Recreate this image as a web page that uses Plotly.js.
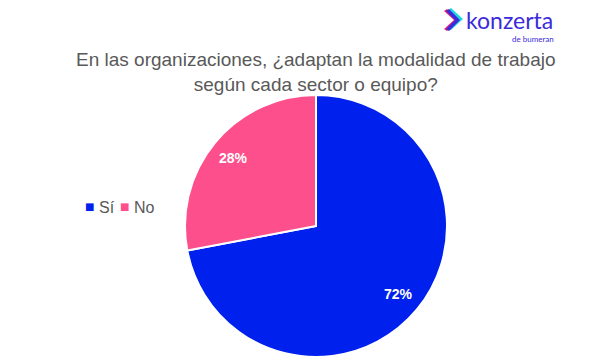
<!DOCTYPE html>
<html>
<head>
<meta charset="utf-8">
<script src="https://cdn.plot.ly/plotly-3.0.1.min.js"></script>
<style>html,body{margin:0;padding:0;background:#fff;}#chart{width:610px;height:362px;}</style>
</head>
<body>
<div id="chart"></div>
<script>
const labels = ["Sí", "No"];
const values = [72, 28];
const colors = ["#0020EE", "#FD4F8B"];
const titleText = "En las organizaciones, ¿adaptan la modalidad de trabajo<br>según cada sector o equipo?";

const W = 610, H = 362;
const px = x => x / W;
const py = y => 1 - y / H;
const CX = 316, CY = 226, R = 131;

const data = [{
  type: "pie",
  labels: labels,
  values: values,
  sort: false,
  direction: "clockwise",
  rotation: 0,
  marker: {colors: colors, line: {color: "#ffffff", width: 2}},
  textinfo: "none",
  hoverinfo: "label+percent",
  domain: {x: [px(CX - R), px(CX + R)], y: [py(CY + R), py(CY - R)]}
}];

const annotations = [
  {text: titleText, x: px(316), y: py(72), xref: "paper", yref: "paper", xanchor: "center", yanchor: "middle",
   showarrow: false, align: "center",
   font: {family: "Liberation Sans, Arial, sans-serif", size: 19, color: "#595959"}},
  {text: "konzerta", x: px(465), y: py(20), xref: "paper", yref: "paper", xanchor: "left", yanchor: "middle",
   showarrow: false, borderpad: 0, font: {family: "Lato, sans-serif", size: 23, color: "#3B2BDB"}},
  {text: "de bumeran", x: px(555), y: py(39), xref: "paper", yref: "paper", xanchor: "right", yanchor: "middle",
   showarrow: false, borderpad: 0, font: {family: "Lato, sans-serif", size: 8, color: "#3B2BDB"}}
];

// percentage labels placed along each slice's mid-angle
const total = values.reduce((a, b) => a + b, 0);
let cum = 0;
values.forEach((v, i) => {
  const mid = (cum + v / 2) / total * 2 * Math.PI;
  cum += v;
  const d = 0.82 * R;
  annotations.push({
    text: "<b>" + Math.round(v / total * 100) + "%</b>",
    x: px(CX + Math.sin(mid) * d), y: py(CY - Math.cos(mid) * d),
    xref: "paper", yref: "paper", xanchor: "center", yanchor: "middle", showarrow: false,
    font: {family: "Liberation Sans, Arial, sans-serif", size: 14, color: "#ffffff"}
  });
});

// legend
const legX = [89, 124];
labels.forEach((lab, i) => {
  annotations.push({text: "■", x: px(legX[i]), y: py(206), xref: "paper", yref: "paper",
    xanchor: "center", yanchor: "middle", showarrow: false,
    font: {family: "DejaVu Sans", size: 10, color: colors[i]}});
  annotations.push({text: lab, x: px(legX[i] + 8), y: py(207), xref: "paper", yref: "paper",
    xanchor: "left", yanchor: "middle", showarrow: false,
    font: {family: "Liberation Sans, Arial, sans-serif", size: 16, color: "#595959"}});
});

const layout = {
  width: W, height: H,
  margin: {l: 0, r: 0, t: 0, b: 0},
  paper_bgcolor: "#ffffff",
  showlegend: false,
  annotations: annotations,
  shapes: [
    {type: "path", xref: "paper", yref: "paper",
     path: `M ${px(448)} ${py(10)} L ${px(458)} ${py(19)} L ${px(448)} ${py(28)} L ${px(451)} ${py(30)} L ${px(463)} ${py(19)} L ${px(451)} ${py(8)} Z`,
     fillcolor: "#20D8E0", line: {width: 0}},
    {type: "path", xref: "paper", yref: "paper",
     path: `M ${px(444)} ${py(11)} L ${px(454)} ${py(20)} L ${px(444)} ${py(29)} L ${px(447)} ${py(31)} L ${px(459)} ${py(20)} L ${px(447)} ${py(9)} Z`,
     fillcolor: "#E8207A", line: {width: 0}},
    {type: "path", xref: "paper", yref: "paper",
     path: `M ${px(446)} ${py(11)} L ${px(455)} ${py(20)} L ${px(446)} ${py(29)} L ${px(449)} ${py(31)} L ${px(460)} ${py(20)} L ${px(449)} ${py(9)} Z`,
     fillcolor: "#3B2BDB", line: {width: 0}}
  ]
};

Plotly.newPlot("chart", data, layout, {displayModeBar: false, staticPlot: true});
</script>
</body>
</html>
